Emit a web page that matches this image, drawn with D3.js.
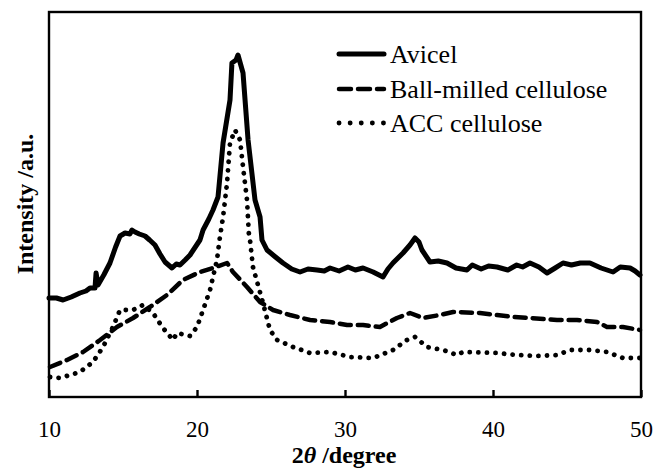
<!DOCTYPE html>
<html><head><meta charset="utf-8">
<script src="https://cdn.jsdelivr.net/npm/d3@7"></script>
<style>body{margin:0;background:#fff}svg{display:block}</style>
</head><body>
<svg id="c" width="657" height="468"></svg>
<script>
const xTicks = [10, 20, 30, 40, 50];
const seriesNames = ["Avicel", "Ball-milled cellulose", "ACC cellulose"];
const avicel = [[10.0,99],[10.5,99],[10.95,97],[11.5,100],[12.09,104],[12.5,106],[12.77,109],[13.11,109],[13.18,124],[13.31,112],[13.7,122],[14.12,134],[14.5,150],[14.80,161],[15.14,164],[15.47,163],[15.6,167],[15.81,165],[16.1,163],[16.49,161],[16.8,157],[17.16,152],[17.5,143],[17.84,135],[18.31,129],[18.6,133],[18.85,132],[19.2,137],[19.53,142],[20.20,157],[20.41,167],[20.8,178],[21.08,187],[21.42,200],[21.76,254],[22.23,297],[22.36,334],[22.64,337],[22.77,342],[23.11,324],[23.45,257],[23.92,197],[24.26,180],[24.39,157],[24.73,147],[25.3,140],[25.81,134],[26.4,128],[26.96,125],[27.5,128],[28.11,127],[28.6,126],[28.99,129],[29.6,126],[30.2,130],[30.7,127],[31.22,129],[31.9,125],[32.57,120],[32.9,128],[33.24,134],[33.92,144],[34.39,152],[34.73,159],[35.0,155],[35.20,147],[35.74,135],[36.3,136],[36.89,134],[37.5,129],[38.24,127],[38.6,132],[39.2,128],[39.7,131],[40.27,130],[41.0,127],[41.6,132],[42.0,130],[42.50,134],[43.1,130],[43.65,124],[44.2,129],[44.73,134],[45.3,132],[45.9,134],[46.55,134],[47.3,129],[48.11,125],[48.6,130],[49.26,129],[49.6,126],[49.93,122]];
const ballMilled = [[10.07,30],[11.22,37],[12.30,45],[13.45,57],[14.59,70],[15.68,79],[16.82,90],[17.97,102],[19.05,117],[20.20,125],[21.08,129],[22.03,134],[22.43,125],[23.38,110],[24.26,95],[25.14,87],[26.28,82],[27.64,77],[28.99,75],[30.14,72],[31.22,72],[32.36,70],[33.51,79],[34.39,84],[35.27,79],[36.42,82],[37.30,85],[39.12,84],[40.27,82],[41.35,80],[42.50,79],[44.32,77],[45.68,77],[47.03,75],[47.70,70],[48.78,70],[49.93,67]];
const acc = [[10.07,20],[10.74,19],[12.09,25],[12.97,35],[13.65,50],[14.32,70],[14.80,87],[15.68,87],[16.35,92],[17.03,84],[17.70,69],[18.38,57],[18.65,64],[19.53,61],[20.00,70],[20.41,87],[20.88,107],[21.08,120],[21.35,137],[21.55,160],[21.76,180],[22.03,214],[22.23,254],[22.57,267],[22.91,257],[23.11,230],[23.38,197],[23.50,164],[23.58,157],[23.78,130],[24.46,94],[24.93,67],[25.41,57],[26.49,50],[27.64,44],[28.99,45],[30.34,40],[31.89,39],[33.24,47],[34.19,57],[34.73,60],[35.54,50],[36.62,47],[37.57,42],[37.97,45],[40.27,44],[41.62,42],[42.97,41],[44.32,42],[45.20,47],[46.55,47],[47.70,45],[48.78,39],[49.93,39]];

const FONT = "Liberation Serif, Times New Roman, serif";
const svg = d3.select("#c");
const L = 49, R = 641, T = 12, B = 397;
const x = d3.scaleLinear().domain([10, 50]).range([L, R]);
const y = d3.scaleLinear().domain([0, 385]).range([B, T]);

const line = d3.line().x(d => x(d[0])).y(d => y(d[1]));
const styles = [
  {w: 5, dash: null},
  {w: 4.5, dash: "11,7"},
  {w: 4.8, dash: "0.1,8.5"}
];
[avicel, ballMilled, acc].forEach((s, i) => {
  svg.append("path").attr("d", line(s)).attr("fill", "none").attr("stroke", "#000")
    .attr("stroke-width", styles[i].w).attr("stroke-linejoin", "round")
    .attr("stroke-linecap", "round")
    .attr("stroke-dasharray", styles[i].dash);
});

// frame
svg.append("rect").attr("x", L).attr("y", T).attr("width", R - L).attr("height", B - T)
  .attr("fill", "none").attr("stroke", "#000").attr("stroke-width", 2.4);

// x axis ticks inside
const ax = svg.append("g").attr("transform", `translate(0,${B})`)
  .call(d3.axisBottom(x).tickValues(xTicks).tickSize(-7).tickPadding(24).tickFormat(d3.format("d")));
ax.attr("font-family", FONT).attr("font-size", 23);
ax.select(".domain").remove();
ax.selectAll("line").attr("stroke", "#000").attr("stroke-width", 2.4);
ax.selectAll("text").attr("font-family", FONT).attr("font-size", 23).attr("fill", "#000");

// axis titles
const xt = svg.append("text").attr("x", 344).attr("y", 463).attr("text-anchor", "middle")
  .attr("font-family", FONT).attr("font-size", 24).attr("font-weight", "bold");
xt.append("tspan").text("2");
xt.append("tspan").attr("font-style", "italic").text("θ");
xt.append("tspan").text(" /degree");

svg.append("text").attr("transform", `translate(33,204) rotate(-90)`).attr("text-anchor", "middle")
  .attr("font-family", FONT).attr("font-size", 24).attr("font-weight", "bold").text("Intensity /a.u.");

// legend
const lg = svg.append("g");
const ly = [54, 89, 123];
seriesNames.forEach((n, i) => {
  lg.append("line").attr("x1", 339).attr("x2", 384).attr("y1", ly[i]).attr("y2", ly[i])
    .attr("stroke", "#000").attr("stroke-width", styles[i].w).attr("stroke-linecap", "round")
    .attr("stroke-dasharray", i === 1 ? "12,7" : (i === 2 ? "0.1,11" : null));
  lg.append("text").attr("x", 390).attr("y", ly[i] + 9).text(n)
    .attr("font-family", FONT).attr("font-size", 26).attr("fill", "#000");
});
</script>
</body></html>
